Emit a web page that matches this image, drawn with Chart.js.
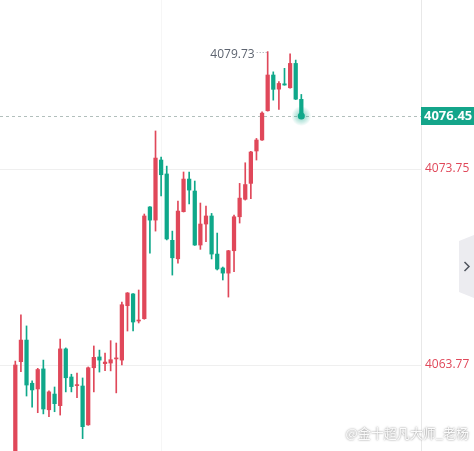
<!DOCTYPE html>
<html>
<head>
<meta charset="utf-8">
<script src="https://cdn.jsdelivr.net/npm/chart.js@4.4.1/dist/chart.umd.min.js"></script>
<style>
html,body{margin:0;padding:0;background:#fff;}
#wrap{position:relative;width:474px;height:451px;}
</style>
</head>
<body>
<div id="wrap"><canvas id="c" width="474" height="451"></canvas></div>
<script>
// ---- data ----
const categories = Array.from({length: 52}, (_, i) => i);
const opens  = [4058.93,4063.94,4065.04,4062.84,4062.55,4063.57,4061.49,4062.29,4061.70,4064.59,
                4063.16,4062.72,4062.70,4060.72,4063.63,4064.18,4063.84,4063.87,4064.08,4064.02,
                4066.79,4067.39,4066.01,4066.13,4071.82,4071.15,4074.21,4073.50,4070.12,4069.18,
                4071.58,4073.24,4072.63,4069.88,4070.95,4071.36,4069.42,4068.71,4068.45,4069.59,
                4071.32,4072.21,4073.02,4074.67,4075.23,4076.72,4078.54,4077.82,4078.09,4077.89,
                4079.13,4077.30];
const highs  = [4063.97,4066.32,4065.76,4062.97,4063.60,4064.02,4062.45,4062.65,4065.09,4064.64,
                4063.30,4063.36,4063.11,4063.67,4064.74,4064.53,4064.38,4065.01,4064.89,4066.98,
                4067.46,4067.41,4067.59,4071.46,4071.84,4075.69,4074.36,4073.90,4070.59,4072.12,
                4073.60,4073.60,4073.14,4072.02,4071.87,4071.49,4070.49,4068.76,4069.61,4071.41,
                4073.02,4074.07,4074.65,4075.31,4076.67,4079.73,4078.70,4078.20,4078.88,4079.62,
                4079.30,4077.55];
const lows   = [4058.68,4063.43,4062.19,4061.62,4061.34,4061.28,4061.14,4061.39,4061.22,4062.40,
                4062.40,4062.11,4060.02,4060.70,4062.40,4063.41,4063.48,4063.47,4062.35,4063.77,
                4065.50,4065.50,4065.91,4066.10,4069.47,4070.59,4072.38,4070.14,4068.35,4068.96,
                4071.56,4071.97,4069.86,4069.66,4070.05,4069.17,4068.61,4068.10,4067.23,4068.52,
                4071.00,4072.17,4072.24,4074.21,4075.21,4076.70,4077.26,4076.79,4078.02,4077.87,
                4077.29,4076.45];
const closes = [4063.77,4065.04,4062.75,4062.50,4063.54,4061.53,4062.40,4061.80,4064.59,4063.12,
                4062.67,4062.75,4060.63,4063.63,4064.16,4064.02,4063.92,4064.04,4064.13,4066.84,
                4067.44,4065.96,4066.06,4071.36,4071.15,4074.31,4073.46,4070.19,4069.23,4071.61,
                4073.24,4072.68,4069.88,4070.95,4071.36,4069.42,4068.66,4068.45,4069.59,4071.32,
                4072.27,4072.96,4074.62,4075.23,4076.60,4078.54,4077.81,4078.11,4078.03,4079.13,
                4077.31,4076.45];
const yTickValues = [4073.75, 4063.77];
const yTickLabels = ['4073.75', '4063.77'];
const lastPrice = 4076.45;
const lastPriceLabel = '4076.45';
const maxHigh = 4079.73;
const maxHighLabel = '4079.73';
const maxHighIndex = 45;
const xGridIndex = [26];
const watermark = '@金十超凡大师_老杨';

// ---- styling ----
const UP = '#e0485a';
const DOWN = '#0fa88a';
const colors = categories.map(i => closes[i] >= opens[i] ? UP : DOWN);

const overlay = {
  id: 'overlay',
  beforeDatasetsDraw(chart) {
    const {ctx, chartArea: a, scales: {y}} = chart;
    const py = Math.round(y.getPixelForValue(lastPrice)) + 0.5;
    ctx.save();
    ctx.strokeStyle = '#b2bfbc';
    ctx.lineWidth = 1;
    ctx.setLineDash([3, 3]);
    ctx.beginPath(); ctx.moveTo(a.left, py); ctx.lineTo(a.right, py); ctx.stroke();
    ctx.restore();
  },
  afterDraw(chart) {
    const {ctx, chartArea: a, scales: {x, y}} = chart;
    ctx.save();
    // pulse dot on last close
    const lx = x.getPixelForValue(categories.length - 1);
    const ly = y.getPixelForValue(lastPrice);
    const g = ctx.createRadialGradient(lx, ly, 0, lx, ly, 10);
    g.addColorStop(0, 'rgba(15,168,138,0.55)');
    g.addColorStop(1, 'rgba(15,168,138,0)');
    ctx.fillStyle = g;
    ctx.beginPath(); ctx.arc(lx, ly, 10, 0, Math.PI * 2); ctx.fill();
    ctx.fillStyle = DOWN;
    ctx.beginPath(); ctx.arc(lx, ly, 3.5, 0, Math.PI * 2); ctx.fill();

    // price tag on axis
    const ty = Math.round(ly);
    ctx.fillStyle = '#14a58a';
    ctx.fillRect(a.right, ty - 9, chart.width - a.right, 18);
    ctx.fillStyle = '#ffffff';
    ctx.font = 'bold 13px "Open Sans", "Noto Sans", sans-serif';
    ctx.textBaseline = 'middle';
    ctx.textAlign = 'left';
    ctx.fillText(lastPriceLabel, a.right + 3, ty + 0.5);

    // max high marker
    const hx = x.getPixelForValue(maxHighIndex);
    const hy = Math.round(y.getPixelForValue(maxHigh)) + 0.5;
    ctx.strokeStyle = '#9aa0a8';
    ctx.setLineDash([1, 2]);
    ctx.beginPath(); ctx.moveTo(hx - 11, hy); ctx.lineTo(hx, hy); ctx.stroke();
    ctx.setLineDash([]);
    ctx.fillStyle = '#5d6470';
    ctx.font = '12px "Open Sans", "Noto Sans", sans-serif';
    ctx.textAlign = 'right';
    ctx.fillText(maxHighLabel, hx - 13, hy + 2);

    // collapse tab at right
    ctx.fillStyle = '#ececf0';
    ctx.beginPath();
    ctx.moveTo(459, 241); ctx.lineTo(474, 235); ctx.lineTo(474, 298); ctx.lineTo(459, 292);
    ctx.closePath(); ctx.fill();
    ctx.strokeStyle = '#50555e';
    ctx.lineWidth = 1.5;
    ctx.beginPath(); ctx.moveTo(464.5, 262); ctx.lineTo(469, 266.5); ctx.lineTo(464.5, 271); ctx.stroke();

    // watermark
    ctx.font = '13px "Noto Sans CJK SC", sans-serif';
    ctx.textAlign = 'right';
    ctx.textBaseline = 'middle';
    ctx.shadowColor = 'rgba(0,0,0,0.6)';
    ctx.shadowBlur = 2;
    ctx.fillStyle = 'rgba(255,255,255,0.95)';
    ctx.fillText(watermark, 469, 433);
    ctx.restore();
  }
};

new Chart(document.getElementById('c'), {
  type: 'bar',
  data: {
    datasets: [
      {
        label: 'wick',
        data: categories.map(i => ({x: i, y: [lows[i], highs[i]]})),
        backgroundColor: colors,
        barThickness: 1,
        borderWidth: 0,
        grouped: false,
        minBarLength: 1
      },
      {
        label: 'body',
        data: categories.map(i => ({x: i, y: [opens[i], closes[i]]})),
        backgroundColor: colors,
        barThickness: 3.6,
        borderWidth: 0,
        grouped: false,
        minBarLength: 1
      }
    ]
  },
  options: {
    responsive: false,
    animation: false,
    layout: {padding: 0},
    plugins: {legend: {display: false}, tooltip: {enabled: false}},
    scales: {
      x: {
        type: 'linear',
        min: -2.73,
        max: 72.34,
        offset: false,
        display: true,
        ticks: {display: false},
        border: {display: false},
        grid: {color: '#f6f6f6', drawTicks: false, offset: false},
        afterBuildTicks(s) { s.ticks = xGridIndex.map(v => ({value: v})); },
        afterFit(s) { s.height = 0; s.paddingLeft = 0; s.paddingRight = 0; }
      },
      y: {
        position: 'right',
        min: 4059.39,
        max: 4082.36,
        border: {display: true, color: '#e8e8e8'},
        grid: {color: '#efefef', drawTicks: false},
        ticks: {
          color: UP,
          padding: 4,
          font: {size: 12, family: '"Open Sans", "Noto Sans", sans-serif'},
          callback: (v) => { const k = yTickValues.indexOf(v); return k >= 0 ? yTickLabels[k] : ''; }
        },
        afterBuildTicks(s) { s.ticks = yTickValues.map(v => ({value: v})); },
        afterFit(s) { s.width = 53; s.paddingTop = 0; s.paddingBottom = 0; }
      }
    }
  },
  plugins: [overlay]
});
</script>
</body>
</html>
